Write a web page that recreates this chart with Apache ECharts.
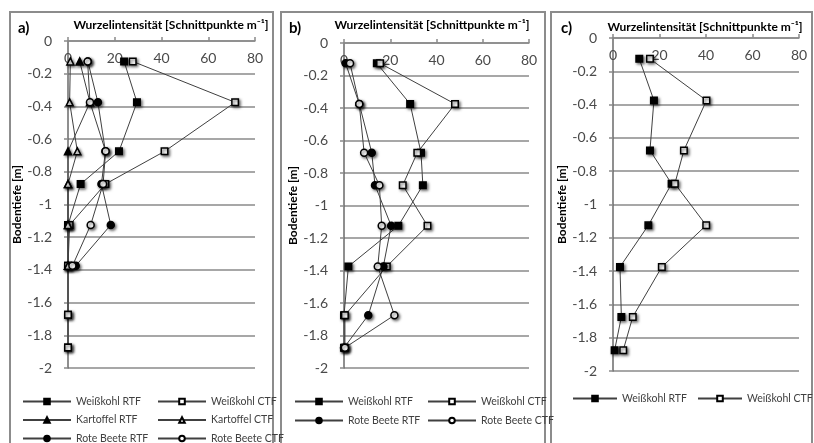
<!DOCTYPE html>
<html><head><meta charset="utf-8">
<script src="https://cdn.jsdelivr.net/npm/echarts@6/dist/echarts.min.js"></script>
<style>html,body{margin:0;padding:0;background:#fff}#c{width:814px;height:443px}</style>
</head><body><div id="c"></div>
<script>
// ---- data ----
const depths = [-0.125, -0.375, -0.675, -0.875, -1.125, -1.375, -1.675, -1.875];
const xMin = 0, xMax = 80, xInterval = 20;
const yMin = -2, yMax = 0, yInterval = 0.2;
const panelLabels = ['a)', 'b)', 'c)'];
const titleText = 'Wurzelintensität [Schnittpunkte m⁻¹]';
const yName = 'Bodentiefe [m]';

// panel a
const wkRtfA = [24, 29.5, 21.8, 5.4, 0, 0, 0, 0];
const wkCtfA = [27.7, 71.5, 41.3, 16, 0.7, 0, 0, 0];
const kaRtfA = [5, 9.4, 0, 0, 0, 0];
const kaCtfA = [1, 0.7, 4, 0, 0, 0];
const rbRtfA = [8.5, 12.8, 16, 14.3, 18.3, 3.3];
const rbCtfA = [8.4, 9.4, 16.1, 15, 9.7, 1.9];
// panel b
const wkRtfB = [14.2, 28.6, 33.3, 34.1, 23.5, 1.9, 0, 0];
const wkCtfB = [15.6, 48, 31.7, 25.4, 36.1, 18.5, 0.4, 0.4];
const rbRtfB = [0.7, 6.6, 12, 13.4, 20.4, 17, 10.5, 0];
const rbCtfB = [2.6, 6.6, 8.7, 15.3, 16.3, 14.6, 21.8, 0.4];
// panel c
const wkRtfC = [11.3, 17.6, 15.9, 25.2, 15.2, 3, 3.6, 0.7];
const wkCtfC = [15.9, 40.2, 30.5, 26.6, 40.1, 21, 8.5, 4.4];

// ---- styling ----
const FONT = 'Lato';
const shadow = {shadowBlur: 3, shadowColor: 'rgba(0,0,0,0.55)', shadowOffsetX: 1.5, shadowOffsetY: 1.5};
const styles = {
  'Weißkohl RTF':   {symbol: 'rect', size: 6.5, fill: '#000'},
  'Weißkohl CTF':   {symbol: 'rect', size: 6.5, fill: '#fff'},
  'Kartoffel RTF':  {symbol: 'triangle', size: 7, fill: '#000'},
  'Kartoffel CTF':  {symbol: 'triangle', size: 7, fill: '#fff'},
  'Rote Beete RTF': {symbol: 'circle', size: 7, fill: '#000'},
  'Rote Beete CTF': {symbol: 'circle', size: 7, fill: '#fff'}
};
function mk(name, vals, idx) {
  const s = styles[name];
  return {
    type: 'line', name, xAxisIndex: idx, yAxisIndex: idx,
    data: vals.map((v, i) => [v, depths[i]]),
    symbol: s.symbol, symbolSize: s.size, showSymbol: true,
    lineStyle: {color: '#404040', width: 1},
    itemStyle: Object.assign({color: s.fill, borderColor: '#000', borderWidth: 1.5}, shadow),
    emphasis: {disabled: true}, animation: false, silent: true
  };
}

const grids = [
  {left: 68, top: 41, width: 187, height: 327},
  {left: 344, top: 43, width: 185, height: 325},
  {left: 613, top: 38, width: 186, height: 333}
];
const titleX = [171, 432, 705];
const titleY = [19, 19, 21];
const labelX = [18, 289, 561];
const frames = [[10, 12, 263], [281, 12, 264], [551, 12, 261]];

const xAxes = grids.map((g, i) => ({
  gridIndex: i, type: 'value', position: 'top', min: xMin, max: xMax, interval: xInterval,
  axisLine: {show: true, lineStyle: {color: '#8a8a8a', width: 1.5}},
  axisTick: {show: true, length: 4, lineStyle: {color: '#8a8a8a', width: 1.5}},
  axisLabel: {inside: true, margin: 10, color: '#4a4a4a', fontSize: 14, fontFamily: FONT},
  splitLine: {show: false}
}));
const yAxes = grids.map((g, i) => ({
  gridIndex: i, type: 'value', min: yMin, max: yMax, interval: yInterval,
  name: yName, nameLocation: 'middle', nameGap: 44,
  nameTextStyle: {fontWeight: 'bold', fontSize: 12, fontFamily: FONT, color: '#000'},
  axisLine: {show: true, onZero: false, lineStyle: {color: '#6a6a6a', width: 1.5}},
  axisTick: {show: true, length: 4, lineStyle: {color: '#8a8a8a', width: 1.5}},
  axisLabel: {margin: 16, color: '#4a4a4a', fontSize: 14, fontFamily: FONT},
  splitLine: {show: true, lineStyle: {color: '#8a8a8a', width: 1.5}}
}));

const titles = [];
grids.forEach((g, i) => {
  titles.push({text: titleText, left: titleX[i], top: titleY[i], textAlign: 'center', padding: 0,
    textStyle: {fontWeight: 'bold', fontSize: 12, fontFamily: FONT, color: '#000'}});
  titles.push({text: panelLabels[i], left: labelX[i], top: 21, padding: 0,
    textStyle: {fontWeight: 'bold', fontSize: 15, fontFamily: FONT, color: '#000'}});
});

const legBase = {orient: 'vertical', itemWidth: 48, itemHeight: 7, itemGap: 7.5, padding: 0,
  width: 130, height: 120,
  textStyle: {fontSize: 10.5, fontFamily: FONT, color: '#404040'},
  itemStyle: {shadowBlur: 0, shadowOffsetX: 0, shadowOffsetY: 0}, selectedMode: false};
const legends = [
  Object.assign({}, legBase, {left: 22, top: 396, data: ['Weißkohl RTF', 'Kartoffel RTF', 'Rote Beete RTF']}),
  Object.assign({}, legBase, {left: 157, top: 396, data: ['Weißkohl CTF', 'Kartoffel CTF', 'Rote Beete CTF']}),
  Object.assign({}, legBase, {left: 294, top: 396, itemGap: 8, data: ['Weißkohl RTF', 'Rote Beete RTF']}),
  Object.assign({}, legBase, {left: 427, top: 396, itemGap: 8, data: ['Weißkohl CTF', 'Rote Beete CTF']}),
  Object.assign({}, legBase, {left: 572, top: 393, itemWidth: 44, data: ['Weißkohl RTF']}),
  Object.assign({}, legBase, {left: 697, top: 393, itemWidth: 44, data: ['Weißkohl CTF']})
];

const series = [
  mk('Weißkohl RTF', wkRtfA, 0), mk('Weißkohl CTF', wkCtfA, 0),
  mk('Kartoffel RTF', kaRtfA, 0), mk('Kartoffel CTF', kaCtfA, 0),
  mk('Rote Beete RTF', rbRtfA, 0), mk('Rote Beete CTF', rbCtfA, 0),
  mk('Weißkohl RTF', wkRtfB, 1), mk('Weißkohl CTF', wkCtfB, 1),
  mk('Rote Beete RTF', rbRtfB, 1), mk('Rote Beete CTF', rbCtfB, 1),
  mk('Weißkohl RTF', wkRtfC, 2), mk('Weißkohl CTF', wkCtfC, 2)
];

const chart = echarts.init(document.getElementById('c'), null, {renderer: 'canvas'});
chart.setOption({
  backgroundColor: '#fff', animation: false,
  grid: grids, xAxis: xAxes, yAxis: yAxes, title: titles, legend: legends, series,
  graphic: frames.map(f => ({type: 'rect', shape: {x: f[0], y: f[1], width: f[2], height: 480},
    style: {fill: null, stroke: '#8c8c8c', lineWidth: 2}, silent: true, z: -1}))
});
</script></body></html>
